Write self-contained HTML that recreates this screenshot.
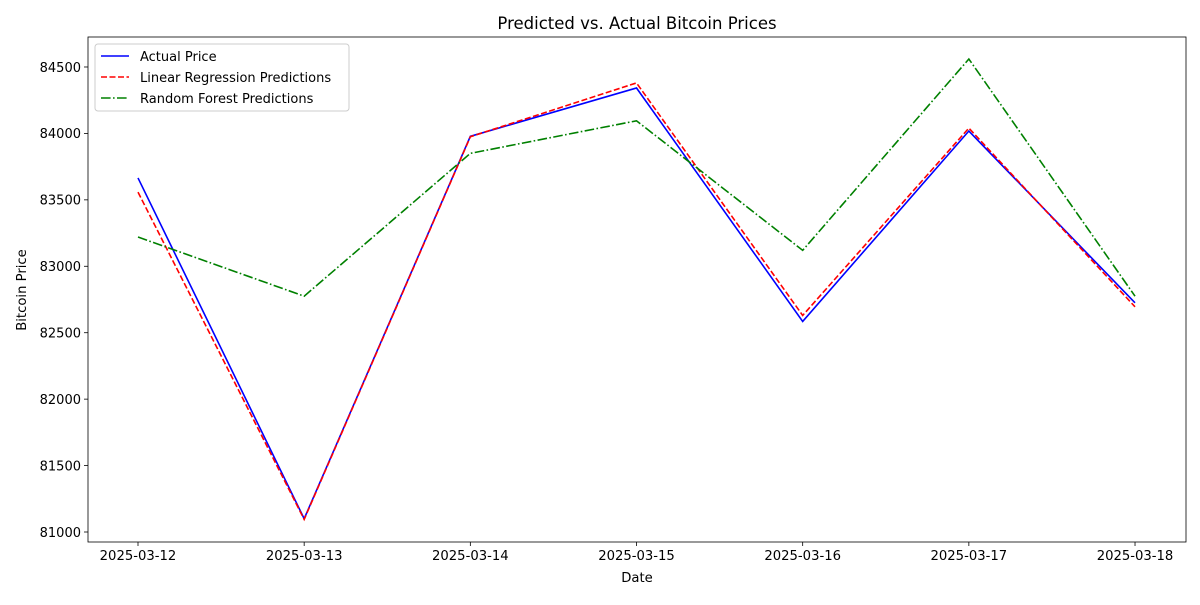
<!DOCTYPE html>
<html><head><meta charset="utf-8"><style>
body{margin:0;background:#fff;font-family:"Liberation Sans","DejaVu Sans",sans-serif}
</style></head><body>
<svg id="chart" width="1200" height="600" xmlns="http://www.w3.org/2000/svg" font-family="DejaVu Sans, Liberation Sans, sans-serif"></svg>
<script>
const categories=["2025-03-12","2025-03-13","2025-03-14","2025-03-15","2025-03-16","2025-03-17","2025-03-18"];
const actualPrice=[83665,81100,83978,84342,82585,84018,82725];
const linearPred=[83558,81095,83975,84380,82630,84040,82695];
const forestPred=[83220,82775,83850,84095,83120,84560,82775];
const yTicks=[81000,81500,82000,82500,83000,83500,84000,84500];
const L=88,R=1186,T=37,B=542;
const x0=138,xStep=166.17;
function xs(i){return x0+i*xStep;}
function ys(v){return 532-(v-81000)/500*66.43;}
const svg=document.getElementById('chart');
const NS="http://www.w3.org/2000/svg";
function add(tag,attrs,parent,text){const e=document.createElementNS(NS,tag);for(const k in attrs)e.setAttribute(k,attrs[k]);if(text!==undefined)e.textContent=text;(parent||svg).appendChild(e);return e;}
const frame=add('rect',{x:L,y:T,width:R-L,height:B-T,fill:'none',stroke:'#000','stroke-width':0.8});


categories.forEach((c,i)=>{
  const t=add('line',{x1:xs(i),x2:xs(i),y1:B,y2:B+4,stroke:'#000','stroke-width':0.8});
  
  
  const l=add('text',{x:xs(i),y:B+18,'text-anchor':'middle','font-size':13.2},null,c);
  
  
});
yTicks.forEach(v=>{
  const t=add('line',{x1:L-4,x2:L,y1:ys(v),y2:ys(v),stroke:'#000','stroke-width':0.8});
  
  
  const l=add('text',{x:L-7,y:ys(v)+4.8,'text-anchor':'end','font-size':13},null,String(v));
  
  
});
function series(vals,color,dash,name){
  const p=add('polyline',{points:vals.map((v,i)=>xs(i)+','+ys(v)).join(' '),fill:'none',stroke:color,'stroke-width':1.6,'stroke-dasharray':dash});
  
  
}
series(actualPrice,'#0000ff','none','actual-price-line');
series(linearPred,'#ff0000','6,2.5','linear-regression-line');
series(forestPred,'#008000','9.6,2.4,1.6,2.4','random-forest-line');
const title=add('text',{x:637,y:29,'text-anchor':'middle','font-size':16.5},null,'Predicted vs. Actual Bitcoin Prices');


const xt=add('text',{x:637,y:582,'text-anchor':'middle','font-size':13.2},null,'Date');


const yt=add('text',{x:26,y:290,'text-anchor':'middle','font-size':13.2,transform:'rotate(-90 26 290)'},null,'Bitcoin Price');


const lg=add('g',{});


add('rect',{x:95,y:44,width:254,height:67,rx:3,fill:'#fff',stroke:'#ccc','stroke-width':1},lg);
const entries=[['Actual Price','#0000ff','none'],['Linear Regression Predictions','#ff0000','6,2.5'],['Random Forest Predictions','#008000','9.6,2.4,1.6,2.4']];
entries.forEach((e,i)=>{
  const y=56+i*21;
  const g=add('g',{},lg);
  
  
  add('line',{x1:101,x2:129,y1:y,y2:y,stroke:e[1],'stroke-width':1.6,'stroke-dasharray':e[2]},g);
  add('text',{x:140,y:y+4.8,'font-size':13},g,e[0]);
});
</script>
</body></html>
